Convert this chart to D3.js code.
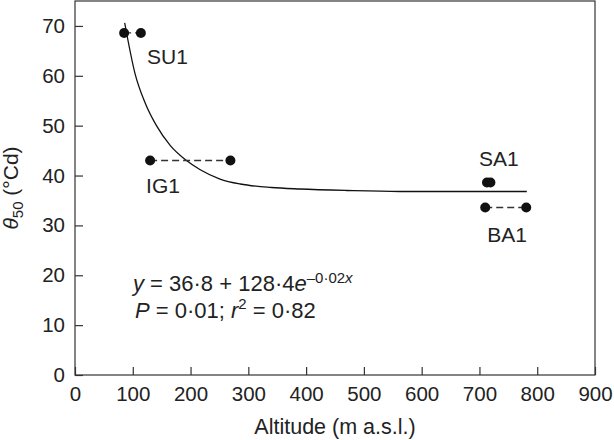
<!DOCTYPE html>
<html lang="en">
<head>
  <meta charset="UTF-8" />
  <title>Theta50 vs altitude</title>
  <script src="https://cdnjs.cloudflare.com/ajax/libs/d3/7.8.4/d3.min.js"></script>
  <style>
    body {
      margin: 0;
      background: #fff;
      font-family: "Liberation Sans", Arial, sans-serif;
    }
    svg text {
      fill: #222;
    }
    .axis path, .axis line {
      stroke: #333;
      stroke-width: 1.2px;
    }
    .axis text {
      font-size: 20.5px;
      font-family: "Liberation Sans", Arial, sans-serif;
    }
  </style>
</head>
<body>
  <svg width="614" height="440"></svg>
  <script>
    // sites, altitude range (two points per site) and theta50
    const sites = ["SU1", "IG1", "SA1", "BA1"];
    const altLow = [85, 130, 713, 710];
    const altHigh = [114, 269, 719, 781];
    const theta50 = [68.6, 43.0, 38.6, 33.6];

    // fitted curve
    const curveAlt = [86, 104, 122, 141, 165, 193, 216, 251, 286, 340, 389, 470, 562, 680, 782];
    const curveTheta = [70.6, 60.4, 54.4, 50.0, 46.0, 43.0, 41.2, 39.3, 38.3, 37.6, 37.3, 37.0, 36.8, 36.8, 36.8];

    const xTicks = [0, 100, 200, 300, 400, 500, 600, 700, 800, 900];
    const yTicks = [0, 10, 20, 30, 40, 50, 60, 70];

    const svg = d3.select("svg");
    const mLeft = 75, mRight = 595, mTop = 1, mBottom = 375;

    const x = d3.scaleLinear().domain([0, 900]).range([mLeft, mRight]);
    const y = d3.scaleLinear().domain([0, 75]).range([mBottom, mTop]);

    // frame
    svg.append("rect")
      .attr("x", mLeft).attr("y", mTop)
      .attr("width", mRight - mLeft).attr("height", mBottom - mTop)
      .attr("fill", "none").attr("stroke", "#333").attr("stroke-width", 1.2);

    svg.append("g")
      .attr("class", "axis")
      .attr("transform", `translate(0,${mBottom})`)
      .call(d3.axisBottom(x).tickValues(xTicks).tickSizeInner(-8).tickSizeOuter(0).tickPadding(11))
      .call(g => g.select(".domain").remove());

    svg.append("g")
      .attr("class", "axis")
      .attr("transform", `translate(${mLeft},0)`)
      .call(d3.axisLeft(y).tickValues(yTicks).tickSizeInner(-8).tickSizeOuter(0).tickPadding(10))
      .call(g => g.select(".domain").remove());

    svg.selectAll(".axis text").attr("fill", "#222");

    // fitted curve
    const line = d3.line()
      .x(i => x(curveAlt[i]))
      .y(i => y(curveTheta[i]))
      .curve(d3.curveMonotoneX);

    svg.append("path")
      .attr("d", line(d3.range(curveAlt.length)))
      .attr("fill", "none")
      .attr("stroke", "#111")
      .attr("stroke-width", 1.3);

    // dashed ranges
    svg.selectAll(".range")
      .data(sites.map((s, i) => i))
      .enter()
      .append("line")
      .attr("x1", i => x(altLow[i]))
      .attr("x2", i => x(altHigh[i]))
      .attr("y1", i => y(theta50[i]))
      .attr("y2", i => y(theta50[i]))
      .attr("stroke", "#333")
      .attr("stroke-width", 1.4)
      .attr("stroke-dasharray", "7,4");

    const pts = [];
    sites.forEach((s, i) => {
      pts.push({ a: altLow[i], t: theta50[i] });
      pts.push({ a: altHigh[i], t: theta50[i] });
    });

    svg.selectAll(".dot")
      .data(pts)
      .enter()
      .append("circle")
      .attr("cx", d => x(d.a))
      .attr("cy", d => y(d.t))
      .attr("r", 5)
      .attr("fill", "#111");

    // site labels, offset from the low-altitude point
    const labelOffset = {
      SU1: [23, 31],
      IG1: [-4, 32],
      SA1: [-8, -17],
      BA1: [2, 35]
    };
    sites.forEach((s, i) => {
      svg.append("text")
        .attr("x", x(altLow[i]) + labelOffset[s][0])
        .attr("y", y(theta50[i]) + labelOffset[s][1])
        .attr("font-size", 21)
        .text(s);
    });

    // equation
    const eq = svg.append("text")
      .attr("x", 133).attr("y", 291)
      .attr("font-size", 22);
    eq.append("tspan").attr("font-style", "italic").text("y");
    eq.append("tspan").text(" = 36\u00b78 + 128\u00b74");
    eq.append("tspan").attr("font-style", "italic").text("e");
    eq.append("tspan").attr("font-size", 15).attr("dy", -8).text("\u20130\u00b702");
    eq.append("tspan").attr("font-size", 15).attr("font-style", "italic").text("x");

    const eq2 = svg.append("text")
      .attr("x", 135).attr("y", 318)
      .attr("font-size", 22);
    eq2.append("tspan").attr("font-style", "italic").text("P");
    eq2.append("tspan").text(" = 0\u00b701; ");
    eq2.append("tspan").attr("font-style", "italic").text("r");
    eq2.append("tspan").attr("font-size", 15).attr("dy", -9).text("2");
    eq2.append("tspan").attr("dy", 9).text(" = 0\u00b782");

    // axis titles
    svg.append("text")
      .attr("x", (mLeft + mRight) / 2)
      .attr("y", 434)
      .attr("text-anchor", "middle")
      .attr("font-size", 21.5)
      .text("Altitude (m a.s.l.)");

    const yt = svg.append("text")
      .attr("transform", `translate(18,${(mTop + mBottom) / 2}) rotate(-90)`)
      .attr("text-anchor", "middle")
      .attr("font-size", 21);
    yt.append("tspan").attr("font-style", "italic").text("\u03b8");
    yt.append("tspan").attr("font-size", 15).attr("dy", 5).text("50");
    yt.append("tspan").attr("dy", -5).text(" (\u00b0Cd)");
  </script>
</body>
</html>
